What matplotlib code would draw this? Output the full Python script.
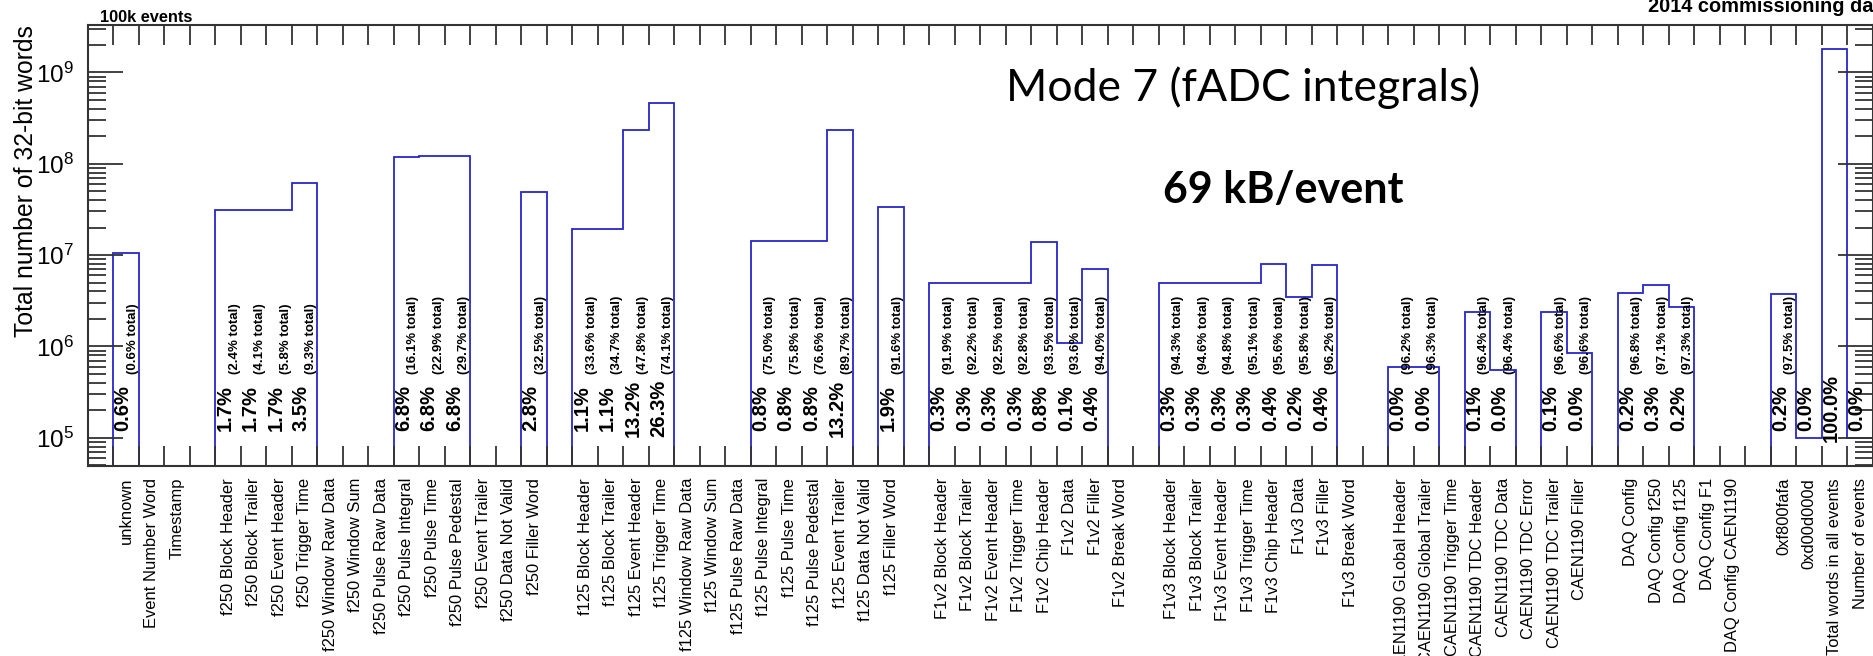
import numpy as np
import matplotlib
matplotlib.use('Agg')
import matplotlib.pyplot as plt
from matplotlib.ticker import LogLocator, NullFormatter, FuncFormatter

plt.rcParams['font.family'] = ['Liberation Sans', 'DejaVu Sans']
plt.rcParams['mathtext.fontset'] = 'custom'
plt.rcParams['mathtext.rm'] = 'Liberation Sans'

# one entry per histogram bin ('' = unlabeled spacer bin)
categories = [
    '', 'unknown', 'Event Number Word', 'Timestamp', '',
    'f250 Block Header', 'f250 Block Trailer', 'f250 Event Header', 'f250 Trigger Time',
    'f250 Window Raw Data', 'f250 Window Sum', 'f250 Pulse Raw Data', 'f250 Pulse Integral',
    'f250 Pulse Time', 'f250 Pulse Pedestal', 'f250 Event Trailer', 'f250 Data Not Valid',
    'f250 Filler Word', '',
    'f125 Block Header', 'f125 Block Trailer', 'f125 Event Header', 'f125 Trigger Time',
    'f125 Window Raw Data', 'f125 Window Sum', 'f125 Pulse Raw Data', 'f125 Pulse Integral',
    'f125 Pulse Time', 'f125 Pulse Pedestal', 'f125 Event Trailer', 'f125 Data Not Valid',
    'f125 Filler Word', '',
    'F1v2 Block Header', 'F1v2 Block Trailer', 'F1v2 Event Header', 'F1v2 Trigger Time',
    'F1v2 Chip Header', 'F1v2 Data', 'F1v2 Filler', 'F1v2 Break Word', '',
    'F1v3 Block Header', 'F1v3 Block Trailer', 'F1v3 Event Header', 'F1v3 Trigger Time',
    'F1v3 Chip Header', 'F1v3 Data', 'F1v3 Filler', 'F1v3 Break Word', '',
    'CAEN1190 GLobal Header', 'CAEN1190 Global Trailer', 'CAEN1190 Trigger Time',
    'CAEN1190 TDC Header', 'CAEN1190 TDC Data', 'CAEN1190 TDC Error', 'CAEN1190 TDC Trailer',
    'CAEN1190 Filler', '',
    'DAQ Config', 'DAQ Config f250', 'DAQ Config f125', 'DAQ Config F1', 'DAQ Config CAEN1190', '',
    '0xf800fafa', '0xd00d000d', 'Total words in all events', 'Number of events',
]

words = [
    0, 1.06e7, 0, 0, 0,
    3.1e7, 3.1e7, 3.1e7, 6.1e7, 0, 0, 0, 1.17e8, 1.21e8, 1.21e8, 0, 0, 4.9e7, 0,
    1.93e7, 1.93e7, 2.32e8, 4.63e8, 0, 0, 0, 1.42e7, 1.42e7, 1.42e7, 2.32e8, 0, 3.33e7, 0,
    4.9e6, 4.9e6, 4.9e6, 4.9e6, 1.39e7, 1.1e6, 7.0e6, 0, 0,
    4.9e6, 4.9e6, 4.9e6, 4.9e6, 7.9e6, 3.5e6, 7.7e6, 0, 0,
    5.9e5, 5.9e5, 0, 2.4e6, 5.5e5, 0, 2.4e6, 8.5e5, 0,
    3.8e6, 4.7e6, 2.7e6, 0, 0, 0,
    3.75e6, 1e5, 1.78e9, 1e5,
]

percent = [
    None, 0.6, None, None, None,
    1.7, 1.7, 1.7, 3.5, None, None, None, 6.8, 6.8, 6.8, None, None, 2.8, None,
    1.1, 1.1, 13.2, 26.3, None, None, None, 0.8, 0.8, 0.8, 13.2, None, 1.9, None,
    0.3, 0.3, 0.3, 0.3, 0.8, 0.1, 0.4, None, None,
    0.3, 0.3, 0.3, 0.3, 0.4, 0.2, 0.4, None, None,
    0.0, 0.0, None, 0.1, 0.0, None, 0.1, 0.0, None,
    0.2, 0.3, 0.2, None, None, None,
    0.2, 0.0, 100.0, 0.0,
]

cumulative = [
    None, 0.6, None, None, None,
    2.4, 4.1, 5.8, 9.3, None, None, None, 16.1, 22.9, 29.7, None, None, 32.5, None,
    33.6, 34.7, 47.8, 74.1, None, None, None, 75.0, 75.8, 76.6, 89.7, None, 91.6, None,
    91.9, 92.2, 92.5, 92.8, 93.5, 93.6, 94.0, None, None,
    94.3, 94.6, 94.8, 95.1, 95.6, 95.8, 96.2, None, None,
    96.2, 96.3, None, 96.4, 96.4, None, 96.6, 96.6, None,
    96.8, 97.1, 97.3, None, None, None,
    97.5, None, None, None,
]

W, H = 1874, 656
fig = plt.figure(figsize=(W / 100, H / 100), dpi=100)
ax = fig.add_axes([88 / W, 1 - 466 / H, (1873 - 88) / W, (466 - 25) / H])

nbins = len(words)
edges = np.arange(nbins + 1)
# empty bins sit far below the frame so the outline drops to the bottom
heights = np.where(np.array(words) > 0, words, 1.0)
ax.stairs(heights, edges, baseline=1.0, color='#2626c8', lw=1.3)

ax.set_yscale('log')
ax.set_xlim(0, nbins)
ax.set_ylim(4.9e4, 3.3e9)

ax.yaxis.set_major_locator(LogLocator(base=10, numticks=20))
ax.yaxis.set_minor_locator(LogLocator(base=10, subs=np.arange(2, 10), numticks=20))
ax.yaxis.set_minor_formatter(NullFormatter())
ax.yaxis.set_major_formatter(FuncFormatter(
    lambda v, p: r'$\mathregular{10^{%d}}$' % round(np.log10(v))))
ax.tick_params(axis='y', which='major', direction='in', length=25, width=1.3,
               right=True, labelsize=17.5, pad=10, color='#333333')
ax.tick_params(axis='y', which='minor', direction='in', length=13, width=1.3,
               right=True, color='#333333')

ax.set_xticks(edges[1:-1], minor=True)
ax.set_xticks(edges[:-1] + 0.5)
ax.set_xticklabels(categories, rotation=90, fontsize=11.9)
ax.tick_params(axis='x', which='major', length=0, pad=8.6)
ax.tick_params(axis='x', which='minor', direction='in', length=14.5, width=1.3,
               top=True, color='#333333')

for s in ax.spines.values():
    s.set_color('#333333')
    s.set_linewidth(1.5)

ax.set_ylabel('Total number of 32-bit words', fontsize=17.8, loc='top')
ax.yaxis.set_label_coords((38 - 88) / (1873 - 88), 1.0)

for k, (p, c) in enumerate(zip(percent, cumulative)):
    if p is not None:
        ax.text(k, 2.1e5, '%.1f%%' % p, rotation=90, ha='left', va='center',
                fontsize=14.5, fontweight='bold')
    if c is not None:
        ax.text(k + 1, 5e5, '(%.1f%% total)' % c, rotation=90, ha='right',
                va='bottom', fontsize=9.5, fontweight='bold')

fig.text(100 / W, 1 - 22 / H, '100k events', fontsize=11.8, fontweight='bold',
         va='baseline')
fig.text(1648 / W, 1 - 12 / H, '2014 commissioning data', fontsize=14.4,
         fontweight='bold', va='baseline')
fig.text(1006 / W, 1 - 101 / H, 'Mode 7 (fADC integrals)', fontsize=32,
         family='Lato', va='baseline')
fig.text(1163 / W, 1 - 203 / H, '69 kB/event', fontsize=31, family='Lato',
         fontweight='bold', va='baseline')

fig.savefig('out.png', dpi=100)
